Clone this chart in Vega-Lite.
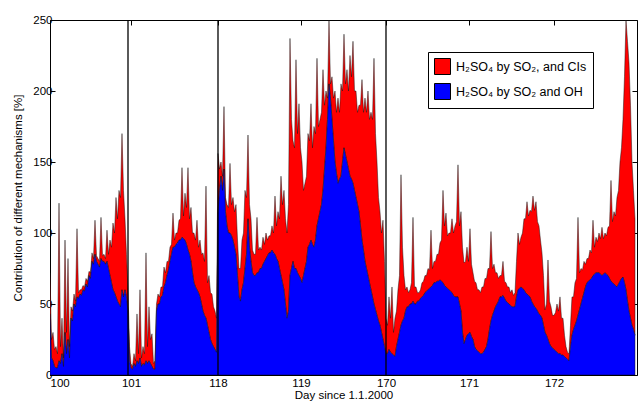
{
  "$schema": "https://vega.github.io/schema/vega-lite/v6.json",
  "width": 587,
  "height": 355,
  "autosize": "none",
  "padding": {"left": 50, "top": 20, "right": 1, "bottom": 28},
  "background": "white",
  "config": {
    "view": {"stroke": "#000", "strokeWidth": 1},
    "font": "Liberation Sans",
    "axis": {"grid": false, "domain": false, "tickColor": "#000", "tickSize": -5, "labelColor": "#000", "labelFontSize": 11.5, "labelFont": "Liberation Sans", "titleFont": "Liberation Sans", "titleFontWeight": "normal", "titleFontSize": 11.5, "titleColor": "#000"}
  },
  "datasets": {
    "series": [
      {"i":0,"oh":43,"cl":29},{"i":0.5,"oh":12,"cl":13},{"i":1,"oh":10,"cl":20},{"i":1.5,"oh":6,"cl":12},{"i":2,"oh":5,"cl":15},{"i":2.5,"oh":5,"cl":10},{"i":3,"oh":10,"cl":111},{"i":3.5,"oh":8,"cl":12},{"i":4,"oh":15,"cl":25},{"i":4.5,"oh":6,"cl":6},
      {"i":5,"oh":30,"cl":65},{"i":5.5,"oh":15,"cl":15},{"i":6,"oh":25,"cl":57},{"i":6.5,"oh":12,"cl":8},{"i":7,"oh":40,"cl":8},{"i":7.5,"oh":38,"cl":7},{"i":8,"oh":50,"cl":7},{"i":8.5,"oh":48,"cl":4},{"i":9,"oh":55,"cl":48},{"i":9.5,"oh":54,"cl":4},
      {"i":10,"oh":57,"cl":3},{"i":10.5,"oh":56,"cl":4},{"i":11,"oh":60,"cl":3},{"i":11.5,"oh":59,"cl":3},{"i":12,"oh":64,"cl":4},{"i":12.5,"oh":62,"cl":4},{"i":13,"oh":70,"cl":3},{"i":13.5,"oh":68,"cl":4},{"i":14,"oh":80,"cl":6},{"i":14.5,"oh":78,"cl":4},
      {"i":15,"oh":85,"cl":24},{"i":15.5,"oh":80,"cl":4},{"i":16,"oh":78,"cl":4},{"i":16.5,"oh":76,"cl":4},{"i":17,"oh":82,"cl":29},{"i":17.5,"oh":80,"cl":4},{"i":18,"oh":80,"cl":5},{"i":18.5,"oh":78,"cl":4},{"i":19,"oh":80,"cl":22},{"i":19.5,"oh":75,"cl":10},
      {"i":20,"oh":70,"cl":25},{"i":20.5,"oh":65,"cl":25},{"i":21,"oh":60,"cl":47},{"i":21.5,"oh":58,"cl":42},{"i":22,"oh":55,"cl":70},{"i":22.5,"oh":52,"cl":58},{"i":23,"oh":50,"cl":80},{"i":23.5,"oh":48,"cl":77},{"i":24,"oh":60,"cl":110},{"i":24.5,"oh":55,"cl":75},
      {"i":25,"oh":60,"cl":50},{"i":25.5,"oh":55,"cl":30},{"i":26,"oh":45,"cl":15},{"i":26.5,"oh":10,"cl":10},{"i":27,"oh":5,"cl":3},{"i":27.5,"oh":4,"cl":2},{"i":28,"oh":8,"cl":7},{"i":28.5,"oh":6,"cl":4},{"i":29,"oh":10,"cl":33},{"i":29.5,"oh":8,"cl":7},
      {"i":30,"oh":12,"cl":48},{"i":30.5,"oh":6,"cl":6},{"i":31,"oh":8,"cl":12},{"i":31.5,"oh":7,"cl":8},{"i":32,"oh":10,"cl":76},{"i":32.5,"oh":8,"cl":12},{"i":33,"oh":10,"cl":38},{"i":33.5,"oh":8,"cl":17},{"i":34,"oh":6,"cl":23},{"i":34.5,"oh":4,"cl":4},
      {"i":35,"oh":4,"cl":6},{"i":35.5,"oh":45,"cl":5},{"i":36,"oh":50,"cl":7},{"i":36.5,"oh":50,"cl":5},{"i":37,"oh":55,"cl":7},{"i":37.5,"oh":56,"cl":6},{"i":38,"oh":62,"cl":14},{"i":38.5,"oh":65,"cl":7},{"i":39,"oh":70,"cl":10},{"i":39.5,"oh":74,"cl":6},
      {"i":40,"oh":80,"cl":10},{"i":40.5,"oh":85,"cl":7},{"i":41,"oh":90,"cl":24},{"i":41.5,"oh":90,"cl":5},{"i":42,"oh":92,"cl":8},{"i":42.5,"oh":93,"cl":7},{"i":43,"oh":95,"cl":14},{"i":43.5,"oh":95,"cl":15},{"i":44,"oh":97,"cl":49},{"i":44.5,"oh":96,"cl":16},
      {"i":45,"oh":95,"cl":33},{"i":45.5,"oh":92,"cl":26},{"i":46,"oh":88,"cl":58},{"i":46.5,"oh":85,"cl":25},{"i":47,"oh":80,"cl":38},{"i":47.5,"oh":72,"cl":28},{"i":48,"oh":65,"cl":35},{"i":48.5,"oh":62,"cl":33},{"i":49,"oh":60,"cl":49},{"i":49.5,"oh":58,"cl":32},
      {"i":50,"oh":55,"cl":40},{"i":50.5,"oh":50,"cl":35},{"i":51,"oh":45,"cl":41},{"i":51.5,"oh":42,"cl":38},{"i":52,"oh":40,"cl":93},{"i":52.5,"oh":35,"cl":30},{"i":53,"oh":30,"cl":40},{"i":53.5,"oh":25,"cl":33},{"i":54,"oh":22,"cl":35},{"i":54.5,"oh":20,"cl":28},
      {"i":55,"oh":18,"cl":27},{"i":55.5,"oh":16,"cl":24},{"i":56,"oh":114,"cl":42},{"i":56.5,"oh":130,"cl":15},{"i":57,"oh":140,"cl":10},{"i":57.5,"oh":130,"cl":10},{"i":58,"oh":145,"cl":44},{"i":58.5,"oh":115,"cl":10},{"i":59,"oh":105,"cl":15},{"i":59.5,"oh":100,"cl":18},
      {"i":60,"oh":100,"cl":49},{"i":60.5,"oh":98,"cl":22},{"i":61,"oh":95,"cl":30},{"i":61.5,"oh":90,"cl":25},{"i":62,"oh":85,"cl":35},{"i":62.5,"oh":70,"cl":25},{"i":63,"oh":55,"cl":20},{"i":63.5,"oh":52,"cl":23},{"i":64,"oh":60,"cl":35},{"i":64.5,"oh":65,"cl":35},
      {"i":65,"oh":75,"cl":55},{"i":65.5,"oh":85,"cl":40},{"i":66,"oh":110,"cl":59},{"i":66.5,"oh":90,"cl":30},{"i":67,"oh":80,"cl":30},{"i":67.5,"oh":72,"cl":16},{"i":68,"oh":70,"cl":15},{"i":68.5,"oh":70,"cl":15},{"i":69,"oh":72,"cl":39},{"i":69.5,"oh":72,"cl":16},
      {"i":70,"oh":75,"cl":15},{"i":70.5,"oh":75,"cl":13},{"i":71,"oh":78,"cl":19},{"i":71.5,"oh":80,"cl":12},{"i":72,"oh":82,"cl":18},{"i":72.5,"oh":84,"cl":11},{"i":73,"oh":86,"cl":12},{"i":73.5,"oh":86,"cl":12},{"i":74,"oh":88,"cl":17},{"i":74.5,"oh":86,"cl":14},
      {"i":75,"oh":85,"cl":41},{"i":75.5,"oh":82,"cl":23},{"i":76,"oh":80,"cl":35},{"i":76.5,"oh":75,"cl":35},{"i":77,"oh":70,"cl":70},{"i":77.5,"oh":65,"cl":55},{"i":78,"oh":60,"cl":70},{"i":78.5,"oh":50,"cl":60},{"i":79,"oh":40,"cl":60},{"i":79.5,"oh":45,"cl":75},
      {"i":80,"oh":70,"cl":167},{"i":80.5,"oh":75,"cl":105},{"i":81,"oh":80,"cl":85},{"i":81.5,"oh":75,"cl":85},{"i":82,"oh":75,"cl":147},{"i":82.5,"oh":72,"cl":98},{"i":83,"oh":70,"cl":121},{"i":83.5,"oh":68,"cl":92},{"i":84,"oh":65,"cl":85},{"i":84.5,"oh":70,"cl":60},
      {"i":85,"oh":75,"cl":60},{"i":85.5,"oh":80,"cl":60},{"i":86,"oh":90,"cl":80},{"i":86.5,"oh":92,"cl":73},{"i":87,"oh":95,"cl":96},{"i":87.5,"oh":92,"cl":68},{"i":88,"oh":90,"cl":85},{"i":88.5,"oh":95,"cl":75},{"i":89,"oh":105,"cl":118},{"i":89.5,"oh":110,"cl":65},
      {"i":90,"oh":115,"cl":65},{"i":90.5,"oh":120,"cl":65},{"i":91,"oh":130,"cl":85},{"i":91.5,"oh":145,"cl":45},{"i":92,"oh":160,"cl":40},{"i":92.5,"oh":180,"cl":15},{"i":93,"oh":205,"cl":45},{"i":93.5,"oh":195,"cl":10},{"i":94,"oh":180,"cl":30},{"i":94.5,"oh":165,"cl":30},
      {"i":95,"oh":150,"cl":50},{"i":95.5,"oh":142,"cl":43},{"i":96,"oh":135,"cl":60},{"i":96.5,"oh":138,"cl":47},{"i":97,"oh":140,"cl":65},{"i":97.5,"oh":150,"cl":50},{"i":98,"oh":160,"cl":80},{"i":98.5,"oh":155,"cl":50},{"i":99,"oh":150,"cl":65},{"i":99.5,"oh":145,"cl":55},
      {"i":100,"oh":140,"cl":85},{"i":100.5,"oh":138,"cl":72},{"i":101,"oh":135,"cl":100},{"i":101.5,"oh":130,"cl":70},{"i":102,"oh":125,"cl":75},{"i":102.5,"oh":120,"cl":65},{"i":103,"oh":115,"cl":75},{"i":103.5,"oh":105,"cl":85},{"i":104,"oh":95,"cl":113},{"i":104.5,"oh":88,"cl":97},
      {"i":105,"oh":80,"cl":115},{"i":105.5,"oh":75,"cl":110},{"i":106,"oh":70,"cl":130},{"i":106.5,"oh":65,"cl":115},{"i":107,"oh":60,"cl":125},{"i":107.5,"oh":55,"cl":125},{"i":108,"oh":50,"cl":173},{"i":108.5,"oh":46,"cl":124},{"i":109,"oh":42,"cl":108},{"i":109.5,"oh":38,"cl":87},
      {"i":110,"oh":35,"cl":80},{"i":110.5,"oh":30,"cl":70},{"i":111,"oh":25,"cl":84},{"i":111.5,"oh":20,"cl":60},{"i":112,"oh":15,"cl":25},{"i":112.5,"oh":15,"cl":20},{"i":113,"oh":18,"cl":37},{"i":113.5,"oh":16,"cl":24},{"i":114,"oh":15,"cl":47},{"i":114.5,"oh":14,"cl":16},
      {"i":115,"oh":13,"cl":27},{"i":115.5,"oh":20,"cl":25},{"i":116,"oh":25,"cl":35},{"i":116.5,"oh":30,"cl":40},{"i":117,"oh":35,"cl":106},{"i":117.5,"oh":38,"cl":52},{"i":118,"oh":40,"cl":30},{"i":118.5,"oh":45,"cl":15},{"i":119,"oh":48,"cl":14},{"i":119.5,"oh":48,"cl":10},
      {"i":120,"oh":50,"cl":10},{"i":120.5,"oh":50,"cl":15},{"i":121,"oh":52,"cl":59},{"i":121.5,"oh":50,"cl":12},{"i":122,"oh":50,"cl":12},{"i":122.5,"oh":52,"cl":6},{"i":123,"oh":52,"cl":6},{"i":123.5,"oh":54,"cl":6},{"i":124,"oh":55,"cl":10},{"i":124.5,"oh":56,"cl":10},
      {"i":125,"oh":58,"cl":12},{"i":125.5,"oh":59,"cl":11},{"i":126,"oh":60,"cl":15},{"i":126.5,"oh":61,"cl":13},{"i":127,"oh":62,"cl":40},{"i":127.5,"oh":63,"cl":12},{"i":128,"oh":65,"cl":15},{"i":128.5,"oh":65,"cl":15},{"i":129,"oh":66,"cl":19},{"i":129.5,"oh":66,"cl":19},
      {"i":130,"oh":67,"cl":26},{"i":130.5,"oh":66,"cl":29},{"i":131,"oh":65,"cl":65},{"i":131.5,"oh":63,"cl":42},{"i":132,"oh":62,"cl":52},{"i":132.5,"oh":61,"cl":37},{"i":133,"oh":60,"cl":40},{"i":133.5,"oh":59,"cl":41},{"i":134,"oh":58,"cl":52},{"i":134.5,"oh":56,"cl":44},
      {"i":135,"oh":55,"cl":50},{"i":135.5,"oh":55,"cl":53},{"i":136,"oh":55,"cl":93},{"i":136.5,"oh":50,"cl":55},{"i":137,"oh":45,"cl":70},{"i":137.5,"oh":30,"cl":60},{"i":138,"oh":22,"cl":57},{"i":138.5,"oh":25,"cl":55},{"i":139,"oh":28,"cl":62},{"i":139.5,"oh":29,"cl":51},
      {"i":140,"oh":30,"cl":73},{"i":140.5,"oh":27,"cl":51},{"i":141,"oh":25,"cl":47},{"i":141.5,"oh":20,"cl":46},{"i":142,"oh":18,"cl":47},{"i":142.5,"oh":17,"cl":43},{"i":143,"oh":16,"cl":44},{"i":143.5,"oh":15,"cl":43},{"i":144,"oh":15,"cl":47},{"i":144.5,"oh":16,"cl":46},
      {"i":145,"oh":18,"cl":50},{"i":145.5,"oh":20,"cl":48},{"i":146,"oh":25,"cl":50},{"i":146.5,"oh":32,"cl":43},{"i":147,"oh":38,"cl":63},{"i":147.5,"oh":42,"cl":33},{"i":148,"oh":45,"cl":33},{"i":148.5,"oh":48,"cl":24},{"i":149,"oh":50,"cl":22},{"i":149.5,"oh":52,"cl":16},
      {"i":150,"oh":55,"cl":15},{"i":150.5,"oh":55,"cl":15},{"i":151,"oh":56,"cl":24},{"i":151.5,"oh":54,"cl":12},{"i":152,"oh":52,"cl":13},{"i":152.5,"oh":51,"cl":11},{"i":153,"oh":50,"cl":12},{"i":153.5,"oh":49,"cl":9},{"i":154,"oh":48,"cl":12},{"i":154.5,"oh":48,"cl":8},
      {"i":155,"oh":48,"cl":10},{"i":155.5,"oh":55,"cl":25},{"i":156,"oh":60,"cl":40},{"i":156.5,"oh":61,"cl":31},{"i":157,"oh":62,"cl":35},{"i":157.5,"oh":61,"cl":39},{"i":158,"oh":60,"cl":50},{"i":158.5,"oh":58,"cl":52},{"i":159,"oh":57,"cl":65},{"i":159.5,"oh":56,"cl":56},
      {"i":160,"oh":55,"cl":61},{"i":160.5,"oh":52,"cl":63},{"i":161,"oh":50,"cl":76},{"i":161.5,"oh":48,"cl":68},{"i":162,"oh":47,"cl":75},{"i":162.5,"oh":45,"cl":63},{"i":163,"oh":43,"cl":62},{"i":163.5,"oh":42,"cl":53},{"i":164,"oh":40,"cl":46},{"i":164.5,"oh":35,"cl":35},
      {"i":165,"oh":30,"cl":16},{"i":165.5,"oh":28,"cl":22},{"i":166,"oh":25,"cl":56},{"i":166.5,"oh":22,"cl":30},{"i":167,"oh":20,"cl":28},{"i":167.5,"oh":19,"cl":23},{"i":168,"oh":18,"cl":24},{"i":168.5,"oh":17,"cl":27},{"i":169,"oh":16,"cl":34},{"i":169.5,"oh":15,"cl":30},
      {"i":170,"oh":15,"cl":40},{"i":170.5,"oh":14,"cl":26},{"i":171,"oh":14,"cl":26},{"i":171.5,"oh":13,"cl":15},{"i":172,"oh":12,"cl":8},{"i":172.5,"oh":11,"cl":5},{"i":173,"oh":10,"cl":5},{"i":173.5,"oh":20,"cl":15},{"i":174,"oh":28,"cl":27},{"i":174.5,"oh":32,"cl":23},
      {"i":175,"oh":35,"cl":30},{"i":175.5,"oh":38,"cl":30},{"i":176,"oh":42,"cl":69},{"i":176.5,"oh":46,"cl":26},{"i":177,"oh":50,"cl":25},{"i":177.5,"oh":54,"cl":20},{"i":178,"oh":58,"cl":22},{"i":178.5,"oh":62,"cl":16},{"i":179,"oh":65,"cl":17},{"i":179.5,"oh":66,"cl":16},
      {"i":180,"oh":67,"cl":21},{"i":180.5,"oh":68,"cl":18},{"i":181,"oh":70,"cl":39},{"i":181.5,"oh":71,"cl":19},{"i":182,"oh":72,"cl":25},{"i":182.5,"oh":72,"cl":22},{"i":183,"oh":72,"cl":28},{"i":183.5,"oh":71,"cl":25},{"i":184,"oh":70,"cl":34},{"i":184.5,"oh":71,"cl":25},
      {"i":185,"oh":72,"cl":28},{"i":185.5,"oh":71,"cl":27},{"i":186,"oh":70,"cl":34},{"i":186.5,"oh":68,"cl":37},{"i":187,"oh":66,"cl":71},{"i":187.5,"oh":65,"cl":43},{"i":188,"oh":64,"cl":51},{"i":188.5,"oh":63,"cl":49},{"i":189,"oh":62,"cl":63},{"i":189.5,"oh":64,"cl":66},
      {"i":190,"oh":66,"cl":84},{"i":190.5,"oh":68,"cl":92},{"i":191,"oh":69,"cl":111},{"i":191.5,"oh":65,"cl":145},{"i":192,"oh":60,"cl":190},{"i":192.5,"oh":52,"cl":183},{"i":193,"oh":45,"cl":175},{"i":193.5,"oh":40,"cl":150},{"i":194,"oh":35,"cl":115},{"i":194.5,"oh":32,"cl":98},
      {"i":195,"oh":28,"cl":82}
    ],
    "breaks": [{"i":26},{"i":56},{"i":112}],
    "frame": [{"v":0}]
  },
  "resolve": {"axis": {"x": "independent", "y": "independent"}},
  "layer": [
    {
      "data": {"name": "series"},
      "transform": [{"fold": ["cl", "oh"], "as": ["mech", "value"]}],
      "mark": {"type": "area", "interpolate": "linear", "stroke": "#111", "strokeWidth": 0.6, "strokeOpacity": 0.8, "clip": true, "fillOpacity": 1},
      "encoding": {
        "x": {"field": "i", "type": "quantitative", "scale": {"domain": [0, 195.67], "nice": false, "zero": false},
          "axis": {"orient": "bottom", "title": "Day since 1.1.2000", "values": [0, 27, 56, 83.67, 112, 139.67, 168], "labelExpr": "datum.value == 0 ? '100' : datum.value == 27 ? '101' : datum.value == 56 ? '118' : datum.value == 83.67 ? '119' : datum.value == 112 ? '170' : datum.value == 139.67 ? '171' : '172'", "labelPadding": 7, "titlePadding": 1}},
        "y": {"field": "value", "type": "quantitative", "stack": "zero", "scale": {"domain": [0, 250], "nice": false},
          "axis": {"orient": "left", "title": "Contribution of different mechanisms [%]", "values": [0, 50, 100, 150, 200, 250], "labelPadding": 3, "titlePadding": 9}},
        "color": {"field": "mech", "type": "nominal", "scale": {"domain": ["cl", "oh"], "range": ["#ff0000", "#0000ff"]},
          "legend": {"orient": "none", "legendX": 378, "legendY": 32, "title": null, "symbolType": "square", "symbolSize": 256, "symbolStrokeColor": "#000", "symbolStrokeWidth": 1, "symbolOpacity": 1, "strokeColor": "#000", "fillColor": "#fff", "padding": 6, "rowPadding": 4, "labelOffset": 5, "labelFontSize": 12.5, "labelColor": "#000", "labelExpr": "datum.value == 'cl' ? 'H₂SO₄ by SO₂, and CIs' : 'H₂SO₄ by SO₂ and OH'"}},
        "order": {"field": "mech", "sort": "descending"}
      }
    },
    {
      "data": {"name": "breaks"},
      "mark": {"type": "rule", "color": "#000", "strokeWidth": 1.3},
      "encoding": {
        "x": {"field": "i", "type": "quantitative", "axis": {"orient": "top", "title": null, "labels": false, "values": [0, 27, 56, 83.67, 112, 139.67, 168]}}
      }
    },
    {
      "data": {"name": "frame"},
      "mark": {"type": "rule", "opacity": 0},
      "encoding": {
        "y": {"field": "v", "type": "quantitative", "axis": {"orient": "right", "title": null, "labels": false, "values": [0, 50, 100, 150, 200, 250]}}
      }
    }
  ]
}
